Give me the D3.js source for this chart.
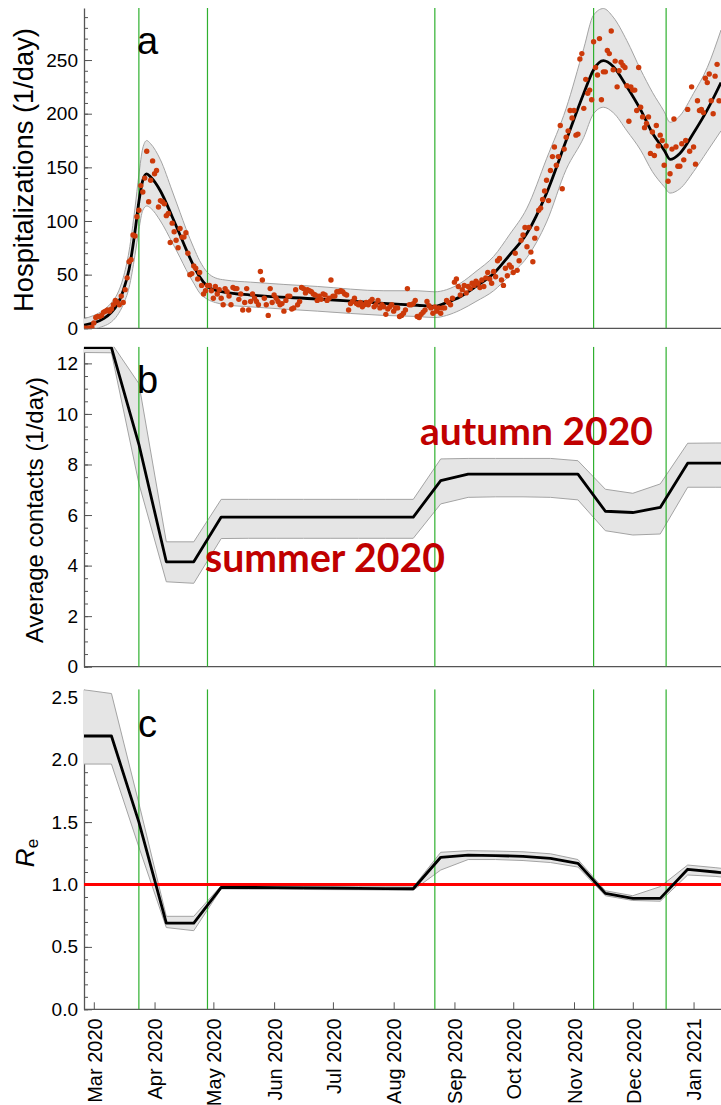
<!DOCTYPE html>
<html>
<head>
<meta charset="utf-8">
<script src="https://cdn.jsdelivr.net/npm/d3@7"></script>
<style>
body { margin: 0; background: #fff; }
svg { display: block; }
svg text { font-family: "Liberation Sans", Arial, sans-serif; fill: #000; }
</style>
</head>
<body>
<svg id="chart" width="721" height="1105"></svg>
<script>
// ---- data ----
var startDate = "2020-02-25";
var endDate = "2021-01-15";

// daily hospitalizations, one value per day from startDate
var hospDaily = [
  0,0,0,0,1,5,10,11,11,12, 15,16,17,16,18,22,26,24,22,30,
  24,36,47,62,64,87,86,104,110,133, 127,140,165,118,138,156,144,147,113,119,
  118,116,105,107,80,98,90,82,75,93, 85,85,89,70,50,51,58,56,46,52,
  40,
  32,35,40,40,35,28,39,32,36,28, 22,37,34,30,22,38,37,37,27,32,
  17,24,37,17,25,32,28,25,22,53, 45,28,22,12,37,24,31,28,25,22,
  23,16,26,30,30,18,19,36,22,25, 38,37,33,36,35,34,32,31,26,30,
  27,32,31,26,28,45,30,30,34,34, 35,34,32,31,17,23,25,28,23,22,
  24,20,22,24,22,25,27,20,22,26, 19,22,20,13,18,20,22,16,19,19,
  11,12,14,17,37,22,22,23,26,11, 10,13,15,17,25,21,19,14,20,16,
  19,14,19,
  19,26,24,22,28,43,46,39,31,
  36,40,33,39,37,42,40,44,42,38, 45,39,47,52,46,42,53,48,63,65,
  45,40,56,49,59,57,52,70,54,63, 82,87,94,76,94,71,62,84,93,110,
  112,120,128,138,119,147,160,169,152,160, 189,130,167,178,184,203,196,203,180,181,
  251,256,205,232,219,222,213,267,243,236, 270,213,239,239,259,256,277,241,249,225,
  240,248,245,243,226,193,225,222,222,203, 243,206,197,187,191,197,163,183,161,189,
  170,180,175,152,170,137,144,167,195,169, 151,151,172,157,175,204,165,225,169,153,
  212,203,204,201,233,229,237,212,200,235, 246,212
];

// model fit for hospitalizations (day offset from startDate)
var fitDay  = [0,5,10,14,17,20,23,26,28,30,32,34,39,45,49,52,56,59,63,67,72,85,119,153,170,179,185,192,200,209,217,226,236,246,255,260,265,270,277,284,290,296,299,304,311,318,325];
var fitMid  = [3,5,9,15,22,35,55,90,118,138,144,141,128,104,87,74,58,48,39,35.5,33.5,31,27.3,23.3,21.5,20.5,24,29.5,39,51,68,88.5,126,175,219,241,249.4,244,225,203.5,182,166,157.5,163,182,203.5,229];
var fitLow  = [0,0,2,6,12,22,38,68,92,110,114,112,100,80,66,55,42,33,27,24,22,20,16,12,11,10,12,17,25,35,49,66,99,148,178,200,206,201,184,166,146,132,126,130,146,165,184];
var fitHigh = [9,12,17,24,32,47,72,112,143,168,175,172,157,128,108,93,75,63,52,47,45,43,39,35,35,34,36,42,53,67,87,112,158,205,261,292,298,290,268,241,220,202,192,198,219,243,278];

// two-week steps used by contacts and Re
var stepDates = ["2020-02-25","2020-03-10","2020-03-24","2020-04-07","2020-04-21","2020-05-05","2020-05-19",
  "2020-06-02","2020-06-16","2020-06-30","2020-07-14","2020-07-28","2020-08-11","2020-08-25","2020-09-08",
  "2020-09-22","2020-10-06","2020-10-20","2020-11-03","2020-11-17","2020-12-01","2020-12-15","2020-12-29",
  "2021-01-12","2021-01-15"];

var contactsMid  = [12.62,12.62,8.8,4.15,4.15,5.92,5.92,5.92,5.92,5.92,5.92,5.92,5.92,7.36,7.62,7.62,7.62,7.62,7.62,6.15,6.1,6.3,8.05,8.05,8.05];
var contactsLow  = [12.43,12.42,7.25,3.36,3.3,5.07,5.08,5.08,5.08,5.08,5.08,5.08,5.08,6.44,6.7,6.72,6.72,6.7,6.6,5.38,5.21,5.25,7.1,7.1,7.1];
var contactsHigh = [12.8,12.8,11.2,4.94,4.94,6.62,6.62,6.62,6.62,6.62,6.62,6.62,6.62,8.22,8.24,8.24,8.24,8.24,8.15,7.02,6.86,7.23,8.84,8.85,8.85];

var reMid  = [2.19,2.19,1.5,0.69,0.69,0.977,0.976,0.975,0.973,0.971,0.969,0.967,0.966,1.218,1.236,1.232,1.225,1.21,1.17,0.929,0.889,0.889,1.122,1.1,1.095];
var reLow  = [1.965,1.965,1.3,0.655,0.63,0.965,0.963,0.962,0.96,0.959,0.958,0.956,0.955,1.116,1.2,1.2,1.192,1.176,1.14,0.91,0.872,0.866,1.076,1.065,1.06];
var reHigh = [2.56,2.53,1.65,0.745,0.745,0.99,0.989,0.988,0.986,0.984,0.982,0.981,0.98,1.258,1.271,1.268,1.262,1.246,1.2,0.95,0.91,0.983,1.156,1.135,1.13];

var markerDates = ["2020-03-24","2020-04-28","2020-08-22","2020-11-11","2020-12-18"];

// ---- layout ----
var svg = d3.select("#chart");
var parseDay = d3.utcParse("%Y-%m-%d");
var t0 = parseDay(startDate);
var left = 84, right = 721;

var x = d3.scaleUtc()
    .domain([t0, parseDay(endDate)])
    .range([left, right]);

var panels = [
  { id: "a", top: 8,     bottom: 328.3,  max: 298.5, major: 50,  minor: 10,  fmt: d3.format("d") },
  { id: "b", top: 346.7, bottom: 666.7,  max: 12.66, major: 2,   minor: 0.5, fmt: d3.format("d") },
  { id: "c", top: 689.3, bottom: 1009.3, max: 2.564, major: 0.5, minor: 0.1, fmt: d3.format(".1f") }
];

function setupPanel(p) {
  p.y = d3.scaleLinear().domain([0, p.max]).range([p.bottom, p.top]);

  svg.append("clipPath").attr("id", "clip-" + p.id)
    .append("rect")
    .attr("x", left).attr("y", p.top)
    .attr("width", right - left).attr("height", p.bottom - p.top);

  var minorVals = d3.range(0, p.max + 1e-9, p.minor);
  var majorVals = d3.range(0, p.max + 1e-9, p.major);

  var minorG = svg.append("g")
    .attr("transform", "translate(" + left + ",0)")
    .call(d3.axisLeft(p.y).tickValues(minorVals).tickSizeInner(-4).tickSizeOuter(0).tickFormat(""));
  minorG.select(".domain").remove();
  minorG.selectAll("line").attr("stroke", "#555");

  var yAxisG = svg.append("g")
    .attr("transform", "translate(" + left + ",0)")
    .call(d3.axisLeft(p.y).tickValues(majorVals).tickSizeInner(-8).tickSizeOuter(0).tickPadding(6).tickFormat(p.fmt));
  yAxisG.select(".domain").attr("stroke", "#555").attr("stroke-width", 1.3);
  yAxisG.selectAll("line").attr("stroke", "#555");
  yAxisG.selectAll("text").style("font-size", "19px").attr("fill", "#000");

  svg.append("line")
    .attr("x1", left).attr("x2", right)
    .attr("y1", p.bottom).attr("y2", p.bottom)
    .attr("stroke", "#555").attr("stroke-width", 1.3);

  p.g = svg.append("g").attr("clip-path", "url(#clip-" + p.id + ")");
  p.bandG = p.g.append("g");
  p.greenG = p.g.append("g");
  p.lineG = p.g.append("g");
}

panels.forEach(setupPanel);

function drawGreen(p) {
  p.greenG.selectAll("line.marker")
    .data(markerDates)
    .enter().append("line")
    .attr("class", "marker")
    .attr("x1", d => x(parseDay(d))).attr("x2", d => x(parseDay(d)))
    .attr("y1", p.top).attr("y2", p.bottom)
    .attr("stroke", "#2fb02f").attr("stroke-width", 1.2);
}
panels.forEach(drawGreen);

function drawBand(p, xs, lo, hi, mid, curve) {
  var rows = xs.map((d, i) => ({ x: d, lo: lo[i], hi: hi[i], mid: mid[i] }));
  var area = d3.area().curve(curve)
    .x(d => x(d.x)).y0(d => p.y(d.lo)).y1(d => p.y(d.hi));
  p.bandG.append("path").datum(rows)
    .attr("d", area).attr("fill", "#e5e5e5").attr("stroke", "none");
  ["lo", "hi"].forEach(function(k) {
    p.bandG.append("path").datum(rows)
      .attr("d", d3.line().curve(curve).x(d => x(d.x)).y(d => p.y(d[k])))
      .attr("fill", "none").attr("stroke", "#a3a3a3").attr("stroke-width", 1);
  });
  p.lineG.append("path").datum(rows)
    .attr("class", "mid")
    .attr("d", d3.line().curve(curve).x(d => x(d.x)).y(d => p.y(d.mid)))
    .attr("fill", "none").attr("stroke", "#000").attr("stroke-width", 2.8)
    .attr("stroke-linejoin", "round");
}

// panel a
var pA = panels[0];
drawBand(pA, fitDay.map(d => d3.utcDay.offset(t0, d)), fitLow, fitHigh, fitMid, d3.curveMonotoneX);
pA.lineG.selectAll("circle.obs")
  .data(hospDaily)
  .enter().append("circle")
  .attr("class", "obs")
  .attr("cx", (d, i) => x(d3.utcDay.offset(t0, i)))
  .attr("cy", d => pA.y(d))
  .attr("r", 2.7)
  .attr("fill", "#cc3a0a");

// panel b
var pB = panels[1];
var stepX = stepDates.map(parseDay);
drawBand(pB, stepX, contactsLow, contactsHigh, contactsMid, d3.curveLinear);

// panel c
var pC = panels[2];
drawBand(pC, stepX, reLow, reHigh, reMid, d3.curveLinear);
pC.lineG.insert("line", "path.mid")
  .attr("x1", left).attr("x2", right)
  .attr("y1", pC.y(1)).attr("y2", pC.y(1))
  .attr("stroke", "#ff0000").attr("stroke-width", 3);

// x axis (bottom panel only)
var months = d3.utcMonth.range(parseDay("2020-03-01"), parseDay(endDate));
var xAxisG = svg.append("g")
  .attr("transform", "translate(0," + pC.bottom + ")")
  .call(d3.axisBottom(x).tickValues(months).tickSizeInner(-7).tickSizeOuter(0).tickFormat(d3.utcFormat("%b %Y")));
xAxisG.select(".domain").remove();
xAxisG.selectAll("line").attr("stroke", "#555");
xAxisG.selectAll("text")
  .attr("transform", "rotate(-90)")
  .attr("x", -9).attr("y", 0).attr("dy", "0.36em")
  .style("text-anchor", "end")
  .style("font-size", "20px")
  .attr("fill", "#000");

// ---- labels ----
function fitWidth(sel, w) {
  var len = sel.node().getComputedTextLength();
  var fs = parseFloat(sel.style("font-size"));
  sel.style("font-size", (fs * w / len) + "px");
}

var titleA = svg.append("text")
  .attr("transform", "translate(33,170)rotate(-90)")
  .style("text-anchor", "middle").style("font-size", "26px")
  .text("Hospitalizations (1/day)");
fitWidth(titleA, 284);

var titleB = svg.append("text")
  .attr("transform", "translate(43,510)rotate(-90)")
  .style("text-anchor", "middle").style("font-size", "24px")
  .text("Average contacts (1/day)");
fitWidth(titleB, 266);

var titleC = svg.append("text")
  .attr("transform", "translate(34,853)rotate(-90)")
  .style("text-anchor", "middle").style("font-size", "26px");
titleC.append("tspan").style("font-style", "italic").text("R");
titleC.append("tspan").style("font-size", "17px").attr("dy", "4").text("e");

var letters = [["a", 137, 54], ["b", 137, 393], ["c", 138, 737]];
svg.selectAll("text.letter")
  .data(letters)
  .enter().append("text")
  .attr("class", "letter")
  .attr("x", d => d[1])
  .attr("y", d => d[2])
  .style("font-size", "38px")
  .text(d => d[0]);

var notes = [["summer 2020", 205, 572, 240], ["autumn 2020", 420, 445, 233]];
notes.forEach(function(n) {
  var t = svg.append("text")
    .attr("x", n[1]).attr("y", n[2])
    .style("font-family", "Lato, 'Open Sans', sans-serif")
    .style("font-weight", "bold")
    .style("font-size", "40px")
    .style("fill", "#c00000")
    .text(n[0]);
  fitWidth(t, n[3]);
});
</script>
</body>
</html>
